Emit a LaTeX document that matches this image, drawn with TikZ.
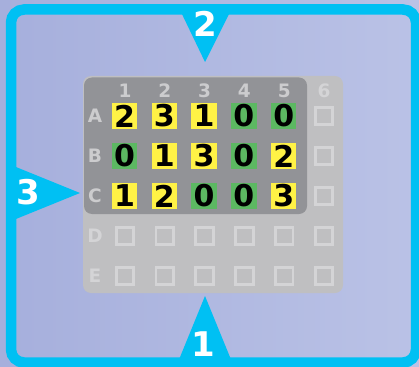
\documentclass[tikz,border=0pt]{standalone}
\usepackage{fontspec}
\newfontfamily\platefont{DejaVu Sans}

\definecolor{bgleft}{RGB}{166,175,220}
\definecolor{bgright}{RGB}{186,194,230}
\definecolor{framecyan}{RGB}{0,192,243}
\definecolor{platelight}{RGB}{191,191,193}
\definecolor{platedark}{RGB}{146,147,151}
\definecolor{headgray}{RGB}{204,204,206}
\definecolor{fadegray}{RGB}{212,212,214}
\definecolor{cellyellow}{RGB}{255,242,70}
\definecolor{cellgreen}{RGB}{92,184,98}

\tikzset{
  biglabel/.style={text=white, font=\platefont\bfseries\fontsize{34}{34}\selectfont, inner sep=0pt},
  headlabel/.style={text=headgray, font=\platefont\bfseries\fontsize{18.5}{18.5}\selectfont, inner sep=0pt},
  fadelabel/.style={headlabel, text=fadegray},
  numcell/.style={minimum size=25.5pt, inner sep=0pt, text=black,
    font=\platefont\bfseries\fontsize{30}{30}\selectfont},
  emptybox/.style={draw=fadegray, line width=2.8pt, minimum size=17.5pt, inner sep=0pt}
}

\begin{document}
\begin{tikzpicture}[x=1pt,y=-1pt]
\useasboundingbox (0,0) rectangle (419,366);

% Background
\shade[left color=bgleft, right color=bgright] (0,0) rectangle (419,366);

% Frame
\draw[line width=10.5pt, draw=framecyan, rounded corners=13pt]
  (11,9.5) rectangle (416,362.5);

% Markers
\fill[framecyan] (180,10) -- (231,10) -- (205,62) -- cycle;
\fill[framecyan] (11,165) -- (80,193) -- (11,221) -- cycle;
\fill[framecyan] (178,362) -- (205,296) -- (232,362) -- cycle;
\node[biglabel] (m2) at (205,24) {2};
\node[biglabel] (m3) at (28.5,192.5) {3};
\node[biglabel] (m1) at (203,344) {1};

% Plate
\fill[platelight, rounded corners=8pt] (83,76) rectangle (343,293);
\fill[platedark, rounded corners=8pt] (84,77.5) rectangle (307,214);

% Column and row heads
\foreach \c in {1,...,5}
  \node[headlabel] (h\c) at ({125+39.8*(\c-1)},91) {\c};
\node[fadelabel] (h6) at (324,91) {6};
\foreach \r/\y in {A/116,B/156,C/196}
  \node[headlabel] (l\r) at (95,\y) {\r};
\foreach \r/\y in {D/236,E/276}
  \node[fadelabel] (l\r) at (95,\y) {\r};

% Filled wells
\foreach \r/\y/\vals in {A/116/{2,3,1,0,0},B/156/{0,1,3,0,2},C/196/{1,2,0,0,3}}{
  \foreach \v [count=\c] in \vals {
    \ifnum\v=0 \def\cellcol{cellgreen}\else\def\cellcol{cellyellow}\fi
    \node[numcell, fill=\cellcol] (\r\c) at ({124.5+39.8*(\c-1)},\y) {\v};
  }
  \node[emptybox] (\r6) at (324,\y) {};
}

% Empty wells
\foreach \r/\y in {D/236,E/276}
  \foreach \c in {1,...,6}
    \node[emptybox] (\r\c) at ({125+39.8*(\c-1)},\y) {};

\end{tikzpicture}
\end{document}
